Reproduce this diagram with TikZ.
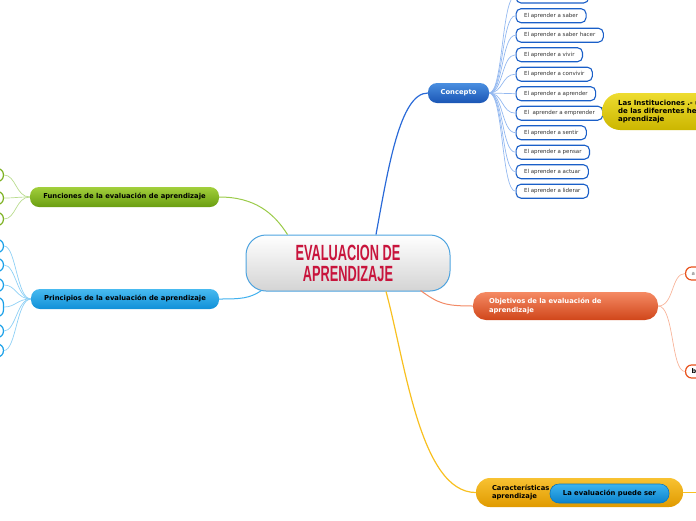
\documentclass[tikz,border=0pt]{standalone}
\usepackage{fontspec}
\setmainfont{DejaVu Sans}
\newfontfamily\titlefont[FakeStretch=0.58]{Liberation Sans}
\usetikzlibrary{calc}
\definecolor{cborder}{HTML}{4DA3DF}
\definecolor{ctitle}{HTML}{C8143C}
\definecolor{conA}{HTML}{4A8FE0}
\definecolor{conB}{HTML}{1A55B5}
\definecolor{itemb}{HTML}{1A5FC8}
\definecolor{conline}{HTML}{2A6AD8}
\definecolor{conchildc}{HTML}{93B8F0}
\definecolor{grA}{HTML}{A2CF3C}
\definecolor{grB}{HTML}{6A9E10}
\definecolor{grline}{HTML}{9BCB4A}
\definecolor{grchild}{HTML}{B9DC8E}
\definecolor{grbox}{HTML}{7DB222}
\definecolor{blA}{HTML}{48BAF0}
\definecolor{blB}{HTML}{1090D8}
\definecolor{blline}{HTML}{40B0EE}
\definecolor{blchild}{HTML}{8ED0F5}
\definecolor{blbox}{HTML}{1AA0E8}
\definecolor{orA}{HTML}{F58A64}
\definecolor{orB}{HTML}{D0461A}
\definecolor{orline}{HTML}{F28A66}
\definecolor{orchild}{HTML}{F8B49A}
\definecolor{orbox}{HTML}{E8501A}
\definecolor{goA}{HTML}{F8C232}
\definecolor{goB}{HTML}{E09A00}
\definecolor{goline}{HTML}{F8C020}
\definecolor{yeA}{HTML}{EEDC30}
\definecolor{yeB}{HTML}{CBB600}
\definecolor{leA}{HTML}{3CB4F0}
\definecolor{leB}{HTML}{0C82CC}
\definecolor{lebd}{HTML}{0A78C0}
\tikzset{
  pill/.style={rounded corners=9pt, inner sep=0pt, minimum height=20pt,
    font=\fontsize{6.8}{8.5}\selectfont\bfseries},
  itembox/.style={draw=itemb, line width=1.1pt, fill=white, rounded corners=5pt,
    inner xsep=8pt, inner ysep=0pt, minimum height=14pt, anchor=west,
    font=\fontsize{5.5}{6}\selectfont, text=black!80},
  sidebox/.style={line width=1.2pt, fill=white, rounded corners=6pt,
    minimum width=60pt, minimum height=13pt, anchor=east, inner sep=0pt},
  conchild/.style={draw=conchildc, line width=0.7pt},
  grc/.style={draw=grchild, line width=0.7pt},
  blc/.style={draw=blchild, line width=0.7pt},
  orc/.style={draw=orchild, line width=0.7pt},
}
\begin{document}
\begin{tikzpicture}[x=1pt,y=-1pt]
\useasboundingbox (0,0) rectangle (696,520);
% central node
\node[draw=cborder, line width=1pt, top color=white, bottom color=black!17,
  rounded corners=20pt, minimum width=204pt, minimum height=56pt, inner sep=0pt,
  align=center, text=ctitle, font=\titlefont\bfseries\fontsize{22}{21}\selectfont]
  (c) at (348,263) {EVALUACION DE\\APRENDIZAJE};
% Concepto
\node[pill, top color=conA, bottom color=conB, text=white, minimum width=61pt]
  (con) at (458.5,93) {Concepto};
\draw[conline, line width=1.2pt] ($(c.north)+(28,0)$) .. controls +(12,-65) and +(-28,0) .. (con.west);
% items
\node[itembox, minimum width=72.5pt] (it0) at (515.5,-4) {};
\draw[conchild] (con.east) .. controls +(14,0) and +(-14,0) .. (it0.west);
\foreach \n/\y/\t in {1/15.7/El aprender a saber, 2/35.2/El aprender a saber hacer,
  3/54.7/El aprender a vivir, 4/74.2/El aprender a convivir, 5/93.7/El aprender a aprender,
  6/113.2/El\ \ aprender a emprender, 7/132.7/El aprender a sentir, 8/152.2/El aprender a pensar,
  9/171.7/El aprender a actuar, 10/191.2/El aprender a liderar}{
  \node[itembox] (it\n) at (515.5,\y) {\t};
  \draw[conchild] (con.east) .. controls +(14,0) and +(-14,0) .. (it\n.west);
}
% yellow node
\node[top color=yeA, bottom color=yeB, rounded corners=18pt, anchor=west,
  minimum width=160pt, minimum height=37pt, inner xsep=16pt, inner ysep=0pt,
  text width=128pt, align=left, font=\fontsize{7}{8}\selectfont\bfseries]
  (ins) at (602,111.5) {Las Instituciones .- u\\de las diferentes her\\aprendizaje};
% Funciones (green)
\node[pill, top color=grA, bottom color=grB, text=black, minimum width=189pt]
  (fun) at (124.5,197) {Funciones de la evaluación de aprendizaje};
\draw[grline, line width=1pt] ($(c.north west)+(42,0)$) .. controls +(-14,-22) and +(35,0) .. (fun.east);
\foreach \n/\y in {1/175,2/198,3/219}{
  \node[sidebox, draw=grbox] (f\n) at (4,\y) {};
  \draw[grc] (fun.west) .. controls +(-14,0) and +(12,0) .. (f\n.east);
}
% Principios (blue)
\node[pill, top color=blA, bottom color=blB, text=black, minimum width=188pt]
  (pri) at (125,299) {Principios de la evaluación de aprendizaje};
\draw[blline, line width=1pt] ($(c.south west)+(16,-1)$) .. controls +(-12,8) and +(22,0) .. (pri.east);
\foreach \n/\y/\h in {1/246/13,2/265/13,3/285/13,4/307/19,5/331/13,6/350.5/13}{
  \node[sidebox, draw=blbox, minimum height=\h pt] (p\n) at (4,\y) {};
  \draw[blc] (pri.west) .. controls +(-14,0) and +(12,0) .. (p\n.east);
}
% Objetivos (orange)
\node[pill, rounded corners=13pt, top color=orA, bottom color=orB, text=white,
  minimum width=185pt, minimum height=28pt, inner xsep=16pt, text width=153pt, align=left]
  (obj) at (565.5,306) {Objetivos de la evaluación de\\aprendizaje};
\draw[orline, line width=1pt] ($(c.south east)+(-30,-1)$) .. controls +(18,13) and +(-28,0) .. (obj.west);
\node[sidebox, draw=orbox, anchor=west, minimum width=40pt, inner xsep=6pt, text width=28pt,
  align=left, font=\fontsize{5.5}{6}\selectfont, text=black!60] (o1) at (685,273.5) {a};
\node[sidebox, draw=orbox, anchor=west, minimum width=40pt, inner xsep=5pt, text width=28pt,
  align=left, font=\fontsize{6.5}{7}\selectfont\bfseries] (o2) at (685,371.5) {b};
\draw[orc] (obj.east) .. controls +(16,0) and +(-14,0) .. (o1.west);
\draw[orc] (obj.east) .. controls +(16,0) and +(-14,0) .. (o2.west);
% Caracteristicas (gold)
\node[pill, rounded corners=14pt, top color=goA, bottom color=goB, text=black,
  minimum width=207pt, minimum height=29pt, inner xsep=16pt, text width=175pt, align=left]
  (car) at (579.5,492.5) {Características de la evaluación de\\aprendizaje};
\draw[goline, line width=1.2pt] ($(c.south)+(38,0)$) .. controls +(19,69) and +(-56,0) .. (car.west);
\coordinate (edge) at (700,492.5);
\draw[goline, line width=1.2pt] (car.east) -- (edge);
\node[pill, draw=lebd, line width=0.6pt, top color=leA, bottom color=leB, text=black,
  minimum width=119pt, minimum height=19pt] (les) at (609.5,493.5) {La evaluación puede ser};
\end{tikzpicture}
\end{document}
